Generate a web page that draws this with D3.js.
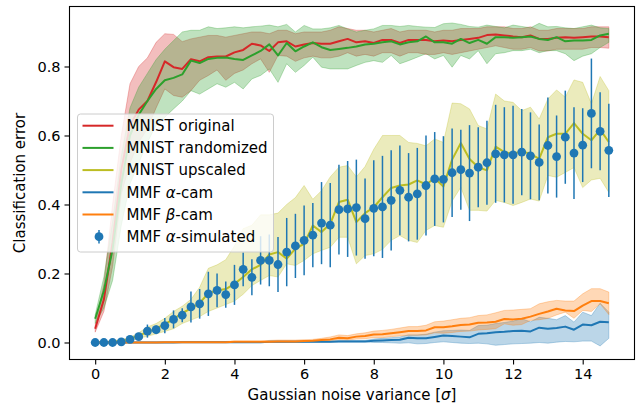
<html>
<head>
<style>
  body { margin: 0; background: #fff; }
  svg { position: absolute; top: 0; left: 0; font-family: "DejaVu Sans", sans-serif; }
  .band { stroke-width: 1px; }
  .mean { fill: none; stroke-width: 2px; stroke-linejoin: round; }
  .axis path, .axis line { stroke: #000; stroke-width: 1.1px; }
  .axis text { font-size: 14.5px; fill: #000; font-family: "DejaVu Sans", sans-serif; }
</style>
<script src="https://cdnjs.cloudflare.com/ajax/libs/d3/7.8.5/d3.min.js"></script>
</head>
<body>
<svg width="639" height="407"></svg>
<script>
// noise levels (sigma)
var noise = [0,0.25,0.5,0.75,1,1.25,1.5,1.75,2,2.25,2.5,2.75,3,3.25,3.5,3.75,4,4.25,4.5,4.75,
  5,5.25,5.5,5.75,6,6.25,6.5,6.75,7,7.25,7.5,7.75,8,8.25,8.5,8.75,9,9.25,9.5,9.75,
  10,10.25,10.5,10.75,11,11.25,11.5,11.75,12,12.25,12.5,12.75,13,13.25,13.5,13.75,14,14.25,14.5,14.75];

var origMean = [0.04,0.125,0.29,0.50,0.63,0.675,0.70,0.755,0.815,0.798, 0.793,0.821,0.815,0.827,0.829,0.829,0.841,0.848,0.866,0.861,
  0.845,0.870,0.873,0.858,0.864,0.868,0.866,0.866,0.873,0.880, 0.870,0.873,0.868,0.877,0.877,0.868,0.877,0.877,0.877,0.873,
  0.875,0.873,0.877,0.880,0.883,0.891,0.893,0.890,0.887,0.885, 0.890,0.880,0.880,0.883,0.885,0.883,0.885,0.887,0.887,0.885];
var origHi = [0.05,0.17,0.40,0.60,0.75,0.80,0.825,0.87,0.895,0.893, 0.872,0.88,0.885,0.89,0.89,0.885,0.89,0.895,0.90,0.90,
  0.895,0.905,0.905,0.895,0.90,0.90,0.90,0.905,0.915,0.91, 0.905,0.905,0.90,0.905,0.91,0.90,0.905,0.905,0.905,0.90,
  0.905,0.905,0.91,0.91,0.91,0.915,0.915,0.915,0.91,0.91, 0.915,0.905,0.905,0.91,0.91,0.91,0.91,0.915,0.915,0.915];
var origLo = [0.03,0.09,0.22,0.43,0.52,0.58,0.62,0.68,0.735,0.716, 0.711,0.73,0.76,0.774,0.79,0.76,0.78,0.79,0.808,0.822,
  0.783,0.832,0.83,0.815,0.825,0.83,0.825,0.825,0.83,0.84, 0.83,0.835,0.83,0.84,0.84,0.83,0.84,0.84,0.835,0.835,
  0.84,0.835,0.84,0.845,0.85,0.855,0.86,0.855,0.85,0.85, 0.855,0.845,0.845,0.85,0.85,0.85,0.85,0.855,0.855,0.853];

var randMean = [0.069,0.15,0.27,0.46,0.60,0.66,0.70,0.735,0.76,0.767, 0.777,0.817,0.81,0.822,0.825,0.826,0.822,0.819,0.832,0.845,
  0.864,0.832,0.868,0.844,0.858,0.870,0.856,0.848,0.851,0.854, 0.858,0.864,0.866,0.870,0.873,0.864,0.870,0.873,0.887,0.870,
  0.870,0.866,0.880,0.868,0.877,0.866,0.885,0.885,0.883,0.885, 0.887,0.880,0.877,0.885,0.873,0.875,0.875,0.877,0.890,0.895];
var randHi = [0.08,0.19,0.35,0.54,0.68,0.74,0.78,0.82,0.85,0.875, 0.90,0.905,0.905,0.915,0.91,0.912,0.915,0.912,0.915,0.917,
  0.92,0.915,0.922,0.90,0.919,0.909,0.909,0.912,0.919,0.909, 0.90,0.905,0.909,0.919,0.919,0.916,0.919,0.916,0.914,0.913,
  0.924,0.926,0.922,0.916,0.914,0.92,0.916,0.912,0.92,0.916, 0.912,0.925,0.915,0.916,0.912,0.91,0.915,0.92,0.912,0.91];
var randLo = [0.055,0.10,0.18,0.34,0.46,0.52,0.58,0.63,0.653,0.677, 0.70,0.73,0.72,0.735,0.75,0.74,0.754,0.735,0.764,0.774,
  0.793,0.754,0.808,0.783,0.803,0.827,0.798,0.793,0.793,0.793, 0.803,0.812,0.817,0.812,0.832,0.808,0.817,0.827,0.837,0.822,
  0.832,0.798,0.832,0.822,0.846,0.808,0.837,0.84,0.846,0.846, 0.85,0.84,0.846,0.846,0.837,0.817,0.83,0.837,0.855,0.87];

var upMean = [0,0,0.002,0.004,0.01,0.02,0.03,0.04,0.053,0.068, 0.085,0.099,0.114,0.143,0.151,0.155,0.17,0.19,0.212,0.225,
  0.255,0.262,0.243,0.272,0.286,0.339,0.32,0.344,0.407,0.414, 0.349,0.375,0.392,0.421,0.448,0.455,0.458,0.47,0.458,0.476,
  0.452,0.53,0.578,0.532,0.508,0.499,0.568,0.552,0.547,0.554, 0.547,0.532,0.595,0.605,0.605,0.636,0.605,0.586,0.617,0.581];
var upHi = [0,0.002,0.005,0.008,0.015,0.028,0.045,0.055,0.07,0.09, 0.105,0.125,0.16,0.215,0.225,0.24,0.28,0.33,0.34,0.37,
  0.37,0.375,0.40,0.42,0.455,0.415,0.44,0.48,0.508,0.513, 0.48,0.51,0.56,0.60,0.60,0.60,0.58,0.577,0.57,0.59,
  0.58,0.694,0.692,0.677,0.629,0.619,0.72,0.70,0.696,0.672, 0.682,0.648,0.706,0.732,0.711,0.761,0.754,0.692,0.771,0.73];
var upLo = [0,0,0,0.001,0.005,0.012,0.018,0.025,0.032,0.04, 0.055,0.065,0.075,0.09,0.10,0.11,0.12,0.14,0.165,0.18,
  0.194,0.19,0.228,0.223,0.238,0.257,0.267,0.276,0.305,0.305, 0.228,0.252,0.257,0.27,0.296,0.31,0.296,0.29,0.325,0.339,
  0.334,0.41,0.45,0.383,0.383,0.381,0.412,0.406,0.397,0.406, 0.416,0.41,0.484,0.479,0.493,0.507,0.449,0.471,0.476,0.435];

var alphaMean = [0,0,0,0,0,0,0,0,0,0, 0.001,0.001,0.001,0.001,0.001,0.001,0.001,0.001,0.001,0.001,
  0.002,0.002,0.002,0.002,0.002,0.002,0.002,0.002,0.003,0.003, 0.003,0.003,0.005,0.006,0.007,0.008,0.014,0.012,0.012,0.016,
  0.020,0.019,0.017,0.015,0.025,0.027,0.030,0.031,0.033,0.034, 0.032,0.043,0.040,0.042,0.046,0.037,0.052,0.050,0.060,0.059];
var alphaHi = [0.001,0.001,0.001,0.001,0.001,0.001,0.001,0.001,0.001,0.001, 0.002,0.002,0.002,0.002,0.002,0.002,0.002,0.002,0.002,0.002,
  0.003,0.003,0.003,0.003,0.003,0.003,0.003,0.003,0.006,0.006, 0.006,0.006,0.01,0.012,0.014,0.016,0.022,0.022,0.024,0.03,
  0.034,0.035,0.036,0.035,0.049,0.05,0.055,0.058,0.062,0.069, 0.06,0.073,0.07,0.066,0.078,0.059,0.088,0.078,0.114,0.088];
var alphaLo = [0,0,0,0,0,0,0,0,0,0, 0,0,0,0,0,0,0,0,0,0,
  0.001,0.001,0.001,0.001,0.001,0.001,0.001,0.001,0.002,0.002, 0.002,0.002,0,0,-0.001,-0.002,-0.001,-0.004,-0.003,0,
  0.002,0,-0.002,-0.003,-0.002,-0.004,-0.008,-0.006,-0.004,-0.003, -0.002,0,-0.002,0.001,0.003,0.002,0.004,0.004,-0.01,0.012];

var betaMean = [0,0,0,0,0,0,0,0,0.001,0.001, 0.001,0.001,0.001,0.001,0.001,0.001,0.002,0.002,0.002,0.002,
  0.002,0.003,0.003,0.003,0.004,0.005,0.007,0.009,0.014,0.012, 0.017,0.019,0.023,0.024,0.027,0.030,0.033,0.033,0.035,0.044,
  0.044,0.047,0.051,0.052,0.057,0.058,0.060,0.068,0.067,0.069, 0.075,0.083,0.090,0.098,0.093,0.091,0.107,0.120,0.120,0.114];
var betaHi = [0.001,0.001,0.001,0.001,0.001,0.001,0.001,0.001,0.002,0.002, 0.003,0.003,0.003,0.003,0.003,0.003,0.004,0.004,0.004,0.004,
  0.006,0.007,0.007,0.007,0.008,0.009,0.012,0.016,0.022,0.02, 0.025,0.028,0.033,0.035,0.038,0.042,0.046,0.046,0.05,0.06,
  0.062,0.066,0.07,0.072,0.078,0.08,0.086,0.093,0.094,0.096, 0.098,0.112,0.118,0.122,0.12,0.12,0.141,0.156,0.156,0.146];
var betaLo = [0,0,0,0,0,0,0,0,0,0, 0,0,0,0,0,0,0.001,0.001,0.001,0.001,
  0.001,0.001,0.001,0.001,0.002,0.003,0.004,0.005,0.008,0.007, 0.010,0.011,0.014,0.014,0.017,0.019,0.021,0.021,0.022,0.028,
  0.027,0.029,0.032,0.033,0.036,0.038,0.040,0.054,0.05,0.052, 0.064,0.066,0.07,0.08,0.088,0.07,0.093,0.09,0.112,0.081];

var simMean = [0,0,0,0.002,0.009,0.017,0.033,0.037,0.049,0.067, 0.079,0.103,0.112,0.141,0.151,0.139,0.167,0.212,0.189,0.238,
  0.238,0.226,0.262,0.280,0.296,0.311,0.346,0.340,0.385,0.387, 0.391,0.359,0.389,0.393,0.412,0.441,0.421,0.431,0.455,0.474,
  0.473,0.492,0.501,0.491,0.508,0.521,0.547,0.544,0.544,0.552, 0.541,0.522,0.571,0.539,0.595,0.549,0.572,0.664,0.612,0.557];
var simErr = [0,0,0,0.002,0.004,0.006,0.019,0.012,0.022,0.026, 0.02,0.045,0.043,0.064,0.049,0.038,0.058,0.049,0.052,0.07,
  0.075,0.08,0.099,0.093,0.101,0.093,0.119,0.122,0.13,0.139, 0.139,0.116,0.139,0.148,0.145,0.13,0.128,0.133,0.145,0.136,
  0.125,0.128,0.116,0.139,0.116,0.122,0.142,0.138,0.142,0.125, 0.126,0.11,0.139,0.119,0.135,0.133,0.107,0.159,0.113,0.135];

var xTicks = [0,2,4,6,8,10,12,14];
var yTicks = [0,0.2,0.4,0.6,0.8];
var labels = ["MNIST original","MNIST randomized","MNIST upscaled","MMF \u03b1-cam","MMF \u03b2-cam","MMF \u03b1-simulated"];

var svg = d3.select("svg");
var L = 69.5, R = 634.5, T = 6.5, B = 359.5;

var x = d3.scaleLinear().domain([-0.7375, 15.4875]).range([L, R]);
var y = d3.scaleLinear().domain([-0.0493, 0.9739]).range([B, T]);

var series = [
  {mean: origMean, lo: origLo, hi: origHi, color: "#d62728"},
  {mean: randMean, lo: randLo, hi: randHi, color: "#2ca02c"},
  {mean: upMean, lo: upLo, hi: upHi, color: "#bcbd22"},
  {mean: alphaMean, lo: alphaLo, hi: alphaHi, color: "#1f77b4"},
  {mean: betaMean, lo: betaLo, hi: betaHi, color: "#ff7f0e"}
];

var plot = svg.append("g");

var area = function(s) {
  return d3.area()
    .x(function(d, i) { return x(noise[i]); })
    .y0(function(d, i) { return y(s.lo[i]); })
    .y1(function(d, i) { return y(s.hi[i]); })(s.mean);
};
var line = d3.line()
  .x(function(d, i) { return x(noise[i]); })
  .y(function(d) { return y(d); });

series.forEach(function(s) {
  plot.append("path").attr("class", "band").attr("d", area(s))
    .attr("fill", s.color).attr("fill-opacity", 0.3)
    .attr("stroke", s.color).attr("stroke-opacity", 0.3);
});
series.forEach(function(s) {
  plot.append("path").attr("class", "mean").attr("d", line(s.mean)).attr("stroke", s.color);
});

// simulated with error bars
var sim = plot.append("g");
sim.selectAll("line").data(simMean).enter().append("line")
  .attr("x1", function(d, i) { return x(noise[i]); })
  .attr("x2", function(d, i) { return x(noise[i]); })
  .attr("y1", function(d, i) { return y(d - simErr[i]); })
  .attr("y2", function(d, i) { return y(d + simErr[i]); })
  .attr("stroke", "#1f77b4").attr("stroke-width", 1.5);
sim.selectAll("circle").data(simMean).enter().append("circle")
  .attr("cx", function(d, i) { return x(noise[i]); })
  .attr("cy", function(d) { return y(d); })
  .attr("r", 4.4).attr("fill", "#1f77b4");

// axes
svg.append("g").attr("class", "axis").attr("transform", "translate(0," + B + ")")
  .call(d3.axisBottom(x).tickValues(xTicks).tickSize(5).tickPadding(4).tickSizeOuter(0).tickFormat(d3.format("d")));
svg.append("g").attr("class", "axis").attr("transform", "translate(" + L + ",0)")
  .call(d3.axisLeft(y).tickValues(yTicks).tickSize(5).tickPadding(4).tickSizeOuter(0).tickFormat(d3.format(".1f")));
svg.selectAll(".axis .domain").remove();
svg.append("rect").attr("x", L).attr("y", T).attr("width", R - L).attr("height", B - T)
  .attr("fill", "none").attr("stroke", "#000").attr("stroke-width", 1.1);

svg.append("text").attr("x", (L + R) / 2).attr("y", 400).attr("text-anchor", "middle")
  .attr("font-size", 15).html('Gaussian noise variance [<tspan font-style="italic">\u03c3</tspan>]');
svg.append("text").attr("transform", "translate(25," + (T + B) / 2 + ") rotate(-90)")
  .attr("text-anchor", "middle").attr("font-size", 15).text("Classification error");

// legend
var lg = svg.append("g").attr("transform", "translate(77.5,114)");
lg.append("rect").attr("width", 196).attr("height", 138).attr("rx", 3)
  .attr("fill", "#fff").attr("fill-opacity", 0.8).attr("stroke", "#ccc");
labels.forEach(function(t, i) {
  var cy = 11.7 + i * 22.2;
  if (i < 5) {
    lg.append("line").attr("x1", 5).attr("x2", 36).attr("y1", cy).attr("y2", cy)
      .attr("stroke", series[i].color).attr("stroke-width", 2);
  } else {
    lg.append("line").attr("x1", 21.5).attr("x2", 21.5).attr("y1", cy - 6.7).attr("y2", cy + 6.7)
      .attr("stroke", "#1f77b4").attr("stroke-width", 1.5);
    lg.append("circle").attr("cx", 21.5).attr("cy", cy).attr("r", 4.4).attr("fill", "#1f77b4");
  }
  var txt = lg.append("text").attr("x", 49).attr("y", cy + 5.3).attr("font-size", 15);
  t.split(/([\u03b1\u03b2])/).forEach(function(p) {
    if (!p) return;
    var ts = txt.append("tspan").text(p);
    if (/[\u03b1\u03b2]/.test(p)) ts.attr("font-style", "italic");
  });
});
</script>
</body>
</html>
